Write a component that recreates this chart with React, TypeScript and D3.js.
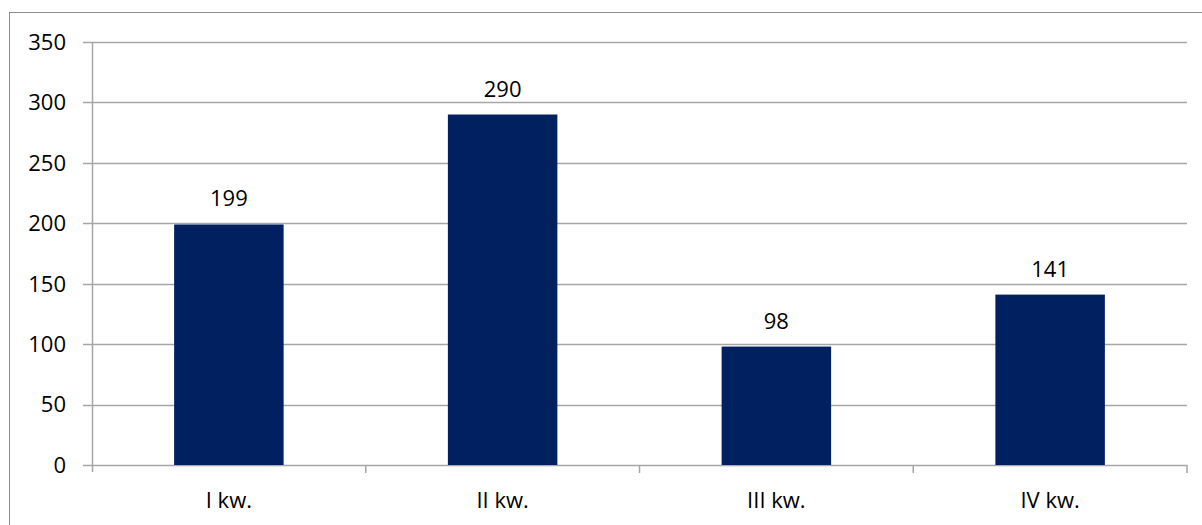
import React from "react";
import * as d3 from "d3";

const categories = ["I kw.", "II kw.", "III kw.", "IV kw."];
const values = [199, 290, 98, 141];
const yTicks = [0, 50, 100, 150, 200, 250, 300, 350];

const W = 1202;
const H = 525;
const FONT = "'Open Sans', 'Noto Sans', sans-serif";

export default function App() {
  const left = 92;
  const right = 1187;
  const top = 42;
  const bottom = 465;

  const x = d3.scaleBand<string>().domain(categories).range([left, right]).paddingInner(0.6).paddingOuter(0.3);
  const band = d3.scaleBand<string>().domain(categories).range([left, right]);
  const y = d3.scaleLinear().domain([0, 350]).range([bottom, top]);

  return (
    <svg
      width={W}
      height={H}
      style={{ position: "absolute", left: 0, top: 0, background: "#fff" }}
      fontFamily={FONT}
    >
      {/* chart frame */}
      <rect x={9.5} y={12.5} width={W} height={H} fill="#fff" stroke="#8c8c8c" strokeWidth={1} />

      {/* gridlines and value axis ticks */}
      {yTicks.map((t) => (
        <g key={t}>
          <line x1={83} x2={right} y1={Math.round(y(t)) + 0.5} y2={Math.round(y(t)) + 0.5} stroke="#a6a6a6" strokeWidth={1.5} />
          <text x={66} y={y(t)} dy="0.36em" textAnchor="end" fontSize={22} fill="#000">
            {t}
          </text>
        </g>
      ))}

      {/* value axis line */}
      <line x1={left + 0.5} x2={left + 0.5} y1={top} y2={bottom + 7} stroke="#a6a6a6" strokeWidth={1.5} />

      {/* category tick marks */}
      {categories.map((c) => (
        <line
          key={"t" + c}
          x1={(band(c) as number) + band.bandwidth()}
          x2={(band(c) as number) + band.bandwidth()}
          y1={bottom}
          y2={bottom + 8}
          stroke="#a6a6a6"
          strokeWidth={1.5}
        />
      ))}

      {/* bars */}
      {categories.map((c, i) => (
        <rect
          key={"b" + c}
          x={x(c)}
          y={y(values[i])}
          width={x.bandwidth()}
          height={bottom - y(values[i])}
          fill="#002060"
        />
      ))}

      {/* data labels */}
      {categories.map((c, i) => (
        <text
          key={"l" + c}
          x={(x(c) as number) + x.bandwidth() / 2}
          y={y(values[i]) - 18}
          textAnchor="middle"
          fontSize={22}
          fill="#000"
        >
          {values[i]}
        </text>
      ))}

      {/* category labels */}
      {categories.map((c) => (
        <text
          key={"c" + c}
          x={(band(c) as number) + band.bandwidth() / 2}
          y={508}
          textAnchor="middle"
          fontSize={22}
          fill="#000"
        >
          {c}
        </text>
      ))}
    </svg>
  );
}
